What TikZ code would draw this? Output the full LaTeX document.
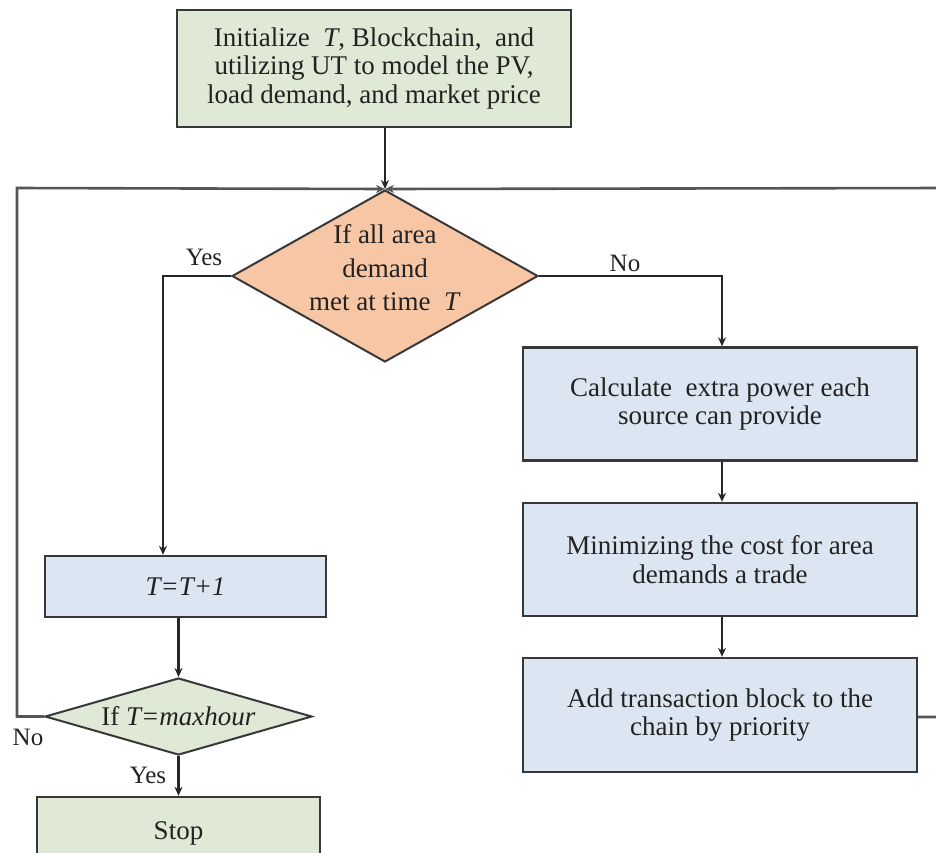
\documentclass[tikz,border=0pt]{standalone}
\usepackage{fontspec}
\setmainfont{Liberation Serif}
\newfontfamily\chartfont{Liberation Serif}
\usetikzlibrary{shapes.geometric,arrows.meta}

\definecolor{fillgreen}{HTML}{DFE9D5}
\definecolor{fillpeach}{HTML}{F7C7A5}
\definecolor{fillblue}{HTML}{DCE6F2}
\definecolor{edgegray}{HTML}{383838}
\definecolor{wiregray}{HTML}{262626}
\definecolor{loopgray}{HTML}{555555}
\definecolor{inkgray}{HTML}{222222}

\tikzset{
  txt/.style={font=\chartfont\fontsize{27}{28.5}\selectfont, text=inkgray, align=center},
  procbox/.style={draw=edgegray, line width=2.4pt, rectangle, inner sep=0pt, txt},
  decision/.style={draw=edgegray, line width=2pt, diamond, inner sep=0pt},
  dtext/.style={font=\chartfont\fontsize{27}{33.5}\selectfont, text=inkgray, align=center},
  wire/.style={draw=wiregray, line width=2.4pt},
  loopwire/.style={draw=loopgray, line width=2.6pt},
  arr/.style={-{Stealth[length=9pt,width=8pt]}},
  tag/.style={font=\chartfont\fontsize{25}{28}\selectfont, text=inkgray, inner sep=0pt}
}

\begin{document}
\begin{tikzpicture}[x=1pt,y=-1pt]
\useasboundingbox (0,0) rectangle (936,852);

% process boxes
\node[procbox, fill=fillgreen, minimum width=394pt, minimum height=117pt] (init) at (374,68.5)
  {Initialize~ \textit{T}, Blockchain,~ and\\ utilizing UT to model the PV,\\ load demand, and market price};

\node[decision, fill=fillpeach, minimum width=306pt, minimum height=172pt,
      label={[dtext, yshift=8pt]center:{If all area\\ demand\\ met at time~ \textit{T}}}] (dem) at (385,276) {};

\node[procbox, fill=fillblue, minimum width=394pt, minimum height=113pt] (calc) at (720,404)
  {Calculate~ extra power each\\ source can provide};
\node[procbox, fill=fillblue, minimum width=394pt, minimum height=113pt] (mini) at (720,559.5)
  {Minimizing the cost for area\\ demands a trade};
\node[procbox, fill=fillblue, minimum width=394pt, minimum height=114pt] (add) at (720,715)
  {Add transaction block to the\\ chain by priority};

\node[procbox, fill=fillblue, minimum width=281pt, minimum height=61pt] (inc) at (185.5,586.5)
  {\textit{T=T+1}};

\node[decision, fill=fillgreen, minimum width=267pt, minimum height=77pt,
      label={[dtext]center:{If \textit{T=maxhour}}}] (maxh) at (178.5,716.5) {};

\node[procbox, fill=fillgreen, minimum width=283pt, minimum height=72pt] (stop) at (178.5,833)
  {Stop};

% junction above the first decision and corner points of the loops
\coordinate (J) at (dem.north);
\coordinate (jl) at (17,188);
\coordinate (jr) at (945,188);
\coordinate (yesc) at (163,276);
\coordinate (noc) at (722,276);
\coordinate (backl) at (17,716.5);
\coordinate (backr) at (945,717);

% connectors
\draw[wire, arr] (init.south -| J) -- (J);
\draw[loopwire, arr] (maxh.west) -- (backl) -- (jl) -- (J);
\draw[loopwire, arr] (add.east |- backr) -- (backr) -- (jr) -- (J);

\draw[wire, arr] (dem.west) -- (yesc) -- (yesc |- inc.north);
\draw[wire, arr] (dem.east) -- (noc) -- (noc |- calc.north);
\draw[wire, arr] (calc.south -| noc) -- (mini.north -| noc);
\draw[wire, arr] (mini.south -| noc) -- (add.north -| noc);
\draw[wire, arr] (inc.south -| maxh) -- (maxh.north);
\draw[wire, arr] (maxh.south) -- (stop.north);

% branch labels
\node[tag] (yes1) at (204,257) {Yes};
\node[tag] (no1) at (625,263) {No};
\node[tag] (no2) at (28,737) {No};
\node[tag] (yes2) at (148,775) {Yes};
\end{tikzpicture}
\end{document}
